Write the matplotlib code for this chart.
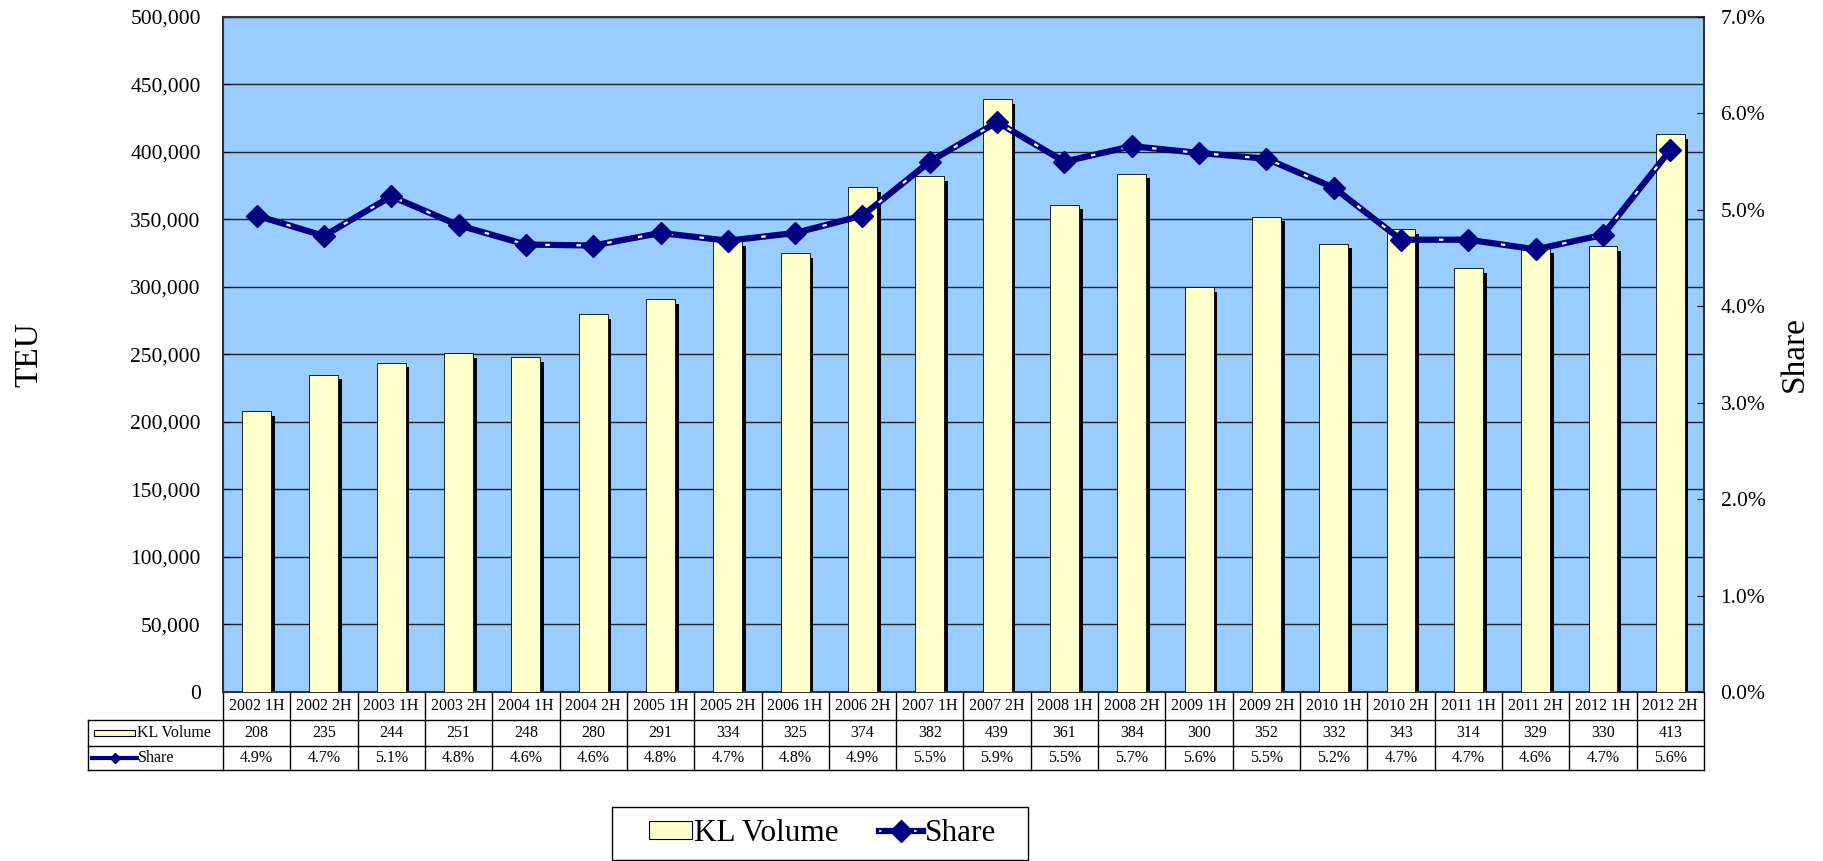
import numpy as np
import matplotlib.pyplot as plt
from matplotlib.lines import Line2D
from matplotlib.patches import Rectangle
from matplotlib.legend_handler import HandlerTuple
import matplotlib.ticker as mticker

plt.rcParams['font.family'] = ['Liberation Serif', 'DejaVu Serif']

periods = ["2002 1H", "2002 2H", "2003 1H", "2003 2H", "2004 1H", "2004 2H",
           "2005 1H", "2005 2H", "2006 1H", "2006 2H", "2007 1H", "2007 2H",
           "2008 1H", "2008 2H", "2009 1H", "2009 2H", "2010 1H", "2010 2H",
           "2011 1H", "2011 2H", "2012 1H", "2012 2H"]
kl_volume = [208000, 235000, 244000, 251000, 248000, 280000, 291000, 334000,
             325000, 374000, 382000, 439000, 361000, 384000, 300000, 352000,
             332000, 343000, 314000, 329000, 330000, 413000]
share = [0.0494, 0.0473, 0.0514, 0.0484, 0.0464, 0.0463, 0.0476, 0.0468,
         0.0476, 0.0494, 0.0550, 0.0591, 0.0550, 0.0566, 0.0559, 0.0553,
         0.0523, 0.0469, 0.0469, 0.0459, 0.0474, 0.0562]

navy = '#000080'
bar_col = '#FFFFCC'
bg = '#99CCFF'

fig = plt.figure(figsize=(18.23, 8.61), dpi=100)
ax = fig.add_axes([0.1223, 0.1963, 0.8124, 0.784])
x = np.arange(len(periods))
n = len(periods)

ax.set_facecolor(bg)
ax.set_xlim(-0.5, n - 0.5)
ax.set_ylim(0, 500000)
ax.set_yticks(np.arange(0, 500001, 50000))
ax.yaxis.set_major_formatter(mticker.FuncFormatter(lambda v, p: f"{int(v):,}"))
ax.set_xticks([])
ax.grid(axis='y', color='#222222', lw=1.0)
ax.set_axisbelow(True)
ax.tick_params(axis='y', labelsize=15.5, direction='in', length=5, pad=16)
for s in ax.spines.values():
    s.set_color('#333333')
    s.set_linewidth(1.5)

# bars with a dark shadow on the lower right
vol = np.array(kl_volume)
ax.bar(x + 0.055, vol - 3500, width=0.43, color='black', zorder=2)
ax.bar(x, vol, width=0.43, color=bar_col, edgecolor='black', lw=0.6, zorder=3)

ax.set_ylabel("TEU", fontsize=24, labelpad=62)

ax2 = ax.twinx()
ax2.set_ylim(0, 0.07)
ax2.set_yticks(np.arange(0, 0.0701, 0.01))
ax2.yaxis.set_major_formatter(mticker.FuncFormatter(lambda v, p: f"{v*100:.1f}%"))
ax2.tick_params(axis='y', labelsize=15.5, direction='in', length=5, pad=12)
for s in ax2.spines.values():
    s.set_visible(False)
ax2.plot(x, share, color=navy, lw=4.5, zorder=4)
ax2.plot(x, share, color='white', lw=1.6, dashes=(2, 12), zorder=5)
ax2.plot(x, share, ls='none', marker='D', ms=11, color=navy, zorder=6)
ax2.set_ylabel("Share", fontsize=24, labelpad=10)

# data table under the axes
tr = ax.get_xaxis_transform()
r0, r1, r2, r3 = 0.0, -0.0415, -0.080, -0.1156
left = -2.5
lk = dict(color='black', lw=1.0, transform=tr, clip_on=False)
for y in (r1, r2, r3):
    ax.plot([left, n - 0.5], [y, y], **lk)
ax.plot([left, left], [r1, r3], **lk)
for i in range(n + 1):
    ax.plot([i - 0.5, i - 0.5], [r0, r3], **lk)
for i in range(n):
    ax.text(x[i], (r0 + r1) / 2, periods[i], transform=tr, ha='center', va='center', fontsize=11.5)
    ax.text(x[i], (r1 + r2) / 2, f"{kl_volume[i] / 1000:.0f}", transform=tr, ha='center', va='center', fontsize=11.5)
    ax.text(x[i], (r2 + r3) / 2, f"{share[i] * 100:.1f}%", transform=tr, ha='center', va='center', fontsize=11.5)

ax.add_patch(Rectangle((left + 0.09, (r1 + r2) / 2 - 0.005), 0.6, 0.010, transform=tr,
                       facecolor=bar_col, edgecolor='black', lw=0.8, clip_on=False))
ax.text(left + 0.73, (r1 + r2) / 2, "KL Volume", transform=tr, ha='left', va='center', fontsize=11.5)
ym = (r2 + r3) / 2
ax.plot([left + 0.06, left + 0.72], [ym, ym], color=navy, lw=3, transform=tr, clip_on=False)
ax.plot([left + 0.39], [ym], marker='D', ms=5, color=navy, transform=tr, clip_on=False)
ax.text(left + 0.73, ym, "Share", transform=tr, ha='left', va='center', fontsize=11.5)

# legend (frame drawn separately so it can be wider than its content)
fig.patches.append(Rectangle((612 / 1823, 1 - 860 / 861), 416 / 1823, 53 / 861,
                             transform=fig.transFigure, facecolor='white',
                             edgecolor='black', lw=1.0))
h_bar = Rectangle((0, 0), 1, 1, facecolor=bar_col, edgecolor='black', lw=0.8)
h_line = (Line2D([], [], color=navy, lw=4.5),
          Line2D([], [], color='white', lw=1.2, dashes=(1.5, 9)),
          Line2D([], [], ls='none', marker='D', ms=11, color=navy))
leg = fig.legend([h_bar, h_line], ["KL Volume", "Share"], loc='center',
                 bbox_to_anchor=(0.451, 0.032), ncol=2, fontsize=22.5,
                 frameon=False, handlelength=1.4, handleheight=0.5,
                 handletextpad=0.05, columnspacing=1.3, borderpad=0.3,
                 borderaxespad=0,
                 handler_map={tuple: HandlerTuple(ndivide=1, pad=0)})

fig.savefig("out.png", dpi=100)
